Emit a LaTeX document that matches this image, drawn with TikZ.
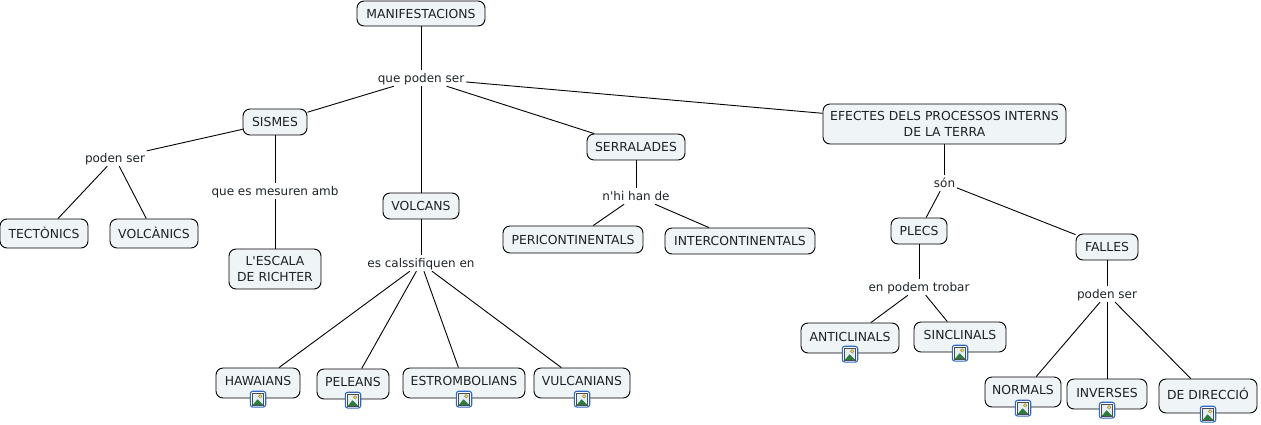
\documentclass[tikz,border=0pt]{standalone}
\usepackage{fontspec}
\setmainfont{DejaVu Sans}[Ligatures=TeXOff]
\definecolor{boxfill}{HTML}{EFF4F6}
\definecolor{boxtext}{HTML}{1C2328}
\definecolor{iconblue}{HTML}{2F68C4}
\definecolor{iconsky}{HTML}{E4EEF6}
\definecolor{icongreen}{HTML}{2F7A3E}
\definecolor{iconsun}{HTML}{F2D85A}
\tikzset{
  boxbase/.style={draw=black,line width=.9pt,fill=boxfill,rounded corners=7pt,text=boxtext,
    font=\fontsize{12.4pt}{16pt}\selectfont,align=center,inner sep=0pt},
  box/.style={boxbase,text height=12pt,text depth=3pt},
  lnk/.style={font=\fontsize{12pt}{14pt}\selectfont,text=boxtext,inner xsep=1.5pt,inner ysep=0pt,
    text height=12pt,text depth=4pt},
  conn/.style={draw=black,line width=.9pt},
  pics/imgicon/.style={code={
    \draw[iconblue,line width=1.1pt,fill=white,rounded corners=2.5pt] (-7.7,-7.9) rectangle (7.7,7.9);
    \draw[black!70,line width=.8pt,fill=iconsky] (-5.3,-5.9) rectangle (5.3,5.9);
    \draw[black!40!iconsun,line width=.4pt,fill=iconsun] (2.2,-2.8) circle (1.8);
    \fill[icongreen] (-5,5.6) -- (-.6,.2) -- (1,1.4) -- (5,5.6) -- cycle;
  }}
}
\begin{document}
\begin{tikzpicture}[x=1pt,y=-1pt]
\useasboundingbox (0,0) rectangle (1261,424);
% nodes
\node[box,minimum width=128,minimum height=25] (man) at (421,13.5) {MANIFESTACIONS};
\node[lnk] (l0) at (421,78) {que poden ser};
\node[box,minimum width=64,minimum height=26] (sis) at (275,122) {SISMES};
\node[box,minimum width=76,minimum height=26] (vol) at (421,206) {VOLCANS};
\node[box,minimum width=98,minimum height=26] (ser) at (636,147) {SERRALADES};
\node[boxbase,minimum width=243,minimum height=40] (efe) at (944.5,124) {EFECTES DELS PROCESSOS INTERNS\\DE LA TERRA};
\node[lnk] (l1) at (115,158) {poden ser};
\node[lnk] (l2) at (275,191) {que es mesuren amb};
\node[lnk] (l3) at (421,263) {es calssifiquen en};
\node[lnk] (l4) at (636,196) {n'hi han de};
\node[lnk] (l5) at (944.5,183) {són};
\node[box,minimum width=88,minimum height=29] (tec) at (44,233.5) {TECTÒNICS};
\node[box,minimum width=88,minimum height=29] (vnc) at (154,233.5) {VOLCÀNICS};
\node[boxbase,minimum width=92,minimum height=40] (ric) at (275,269) {L'ESCALA\\DE RICHTER};
\node[box,minimum width=84,minimum height=30] (haw) at (258,383) {\raisebox{2.5pt}{HAWAIANS}};
\node[box,minimum width=72,minimum height=30] (pel) at (353,384) {\raisebox{2.5pt}{PELEANS}};
\node[box,minimum width=122,minimum height=30] (est) at (464,383) {\raisebox{2.5pt}{ESTROMBOLIANS}};
\node[box,minimum width=96,minimum height=30] (vul) at (582,383) {\raisebox{2.5pt}{VULCANIANS}};
\node[box,minimum width=140,minimum height=27] (per) at (573,239.5) {PERICONTINENTALS};
\node[box,minimum width=150,minimum height=26] (int) at (740,241) {INTERCONTINENTALS};
\node[box,minimum width=56,minimum height=26] (ple) at (919,231) {PLECS};
\node[box,minimum width=62,minimum height=26] (fal) at (1107,247) {FALLES};
\node[lnk] (l6) at (919,287) {en podem trobar};
\node[lnk] (l7) at (1107,294) {poden ser};
\node[box,minimum width=98,minimum height=30] (ant) at (850,338) {\raisebox{1.5pt}{ANTICLINALS}};
\node[box,minimum width=92,minimum height=30] (sin) at (960,337) {\raisebox{2.5pt}{SINCLINALS}};
\node[box,minimum width=76,minimum height=30] (nor) at (1023,392) {\raisebox{2.5pt}{NORMALS}};
\node[box,minimum width=80,minimum height=30] (inv) at (1107,394) {\raisebox{1.5pt}{INVERSES}};
\node[box,minimum width=98,minimum height=34] (dir) at (1208,396) {\raisebox{1pt}{DE DIRECCIÓ}};
% connectors
\draw[conn] (man) -- (l0);
\draw[conn] (l0) -- (sis);
\draw[conn] (l0) -- (vol);
\draw[conn] (l0) -- (ser);
\draw[conn] (l0) -- (efe);
\draw[conn] (sis) -- (l1);
\draw[conn] (sis) -- (l2);
\draw[conn] (l1) -- (tec);
\draw[conn] (l1) -- (vnc);
\draw[conn] (l2) -- (ric);
\draw[conn] (vol) -- (l3);
\draw[conn] (l3) -- (haw);
\draw[conn] (l3) -- (pel);
\draw[conn] (l3) -- (est);
\draw[conn] (l3) -- (vul);
\draw[conn] (ser) -- (l4);
\draw[conn] (l4) -- (per);
\draw[conn] (l4) -- (int);
\draw[conn] (efe) -- (l5);
\draw[conn] (l5) -- (ple);
\draw[conn] (l5) -- (fal);
\draw[conn] (ple) -- (l6);
\draw[conn] (l6) -- (ant);
\draw[conn] (l6) -- (sin);
\draw[conn] (fal) -- (l7);
\draw[conn] (l7) -- (nor);
\draw[conn] (l7) -- (inv);
\draw[conn] (l7) -- (dir);
% image icons
\foreach \b in {haw,pel,est,vul,ant,sin,nor,inv,dir}{
  \path (\b.south) ++(0,.7) pic {imgicon};
}
\end{tikzpicture}
\end{document}
